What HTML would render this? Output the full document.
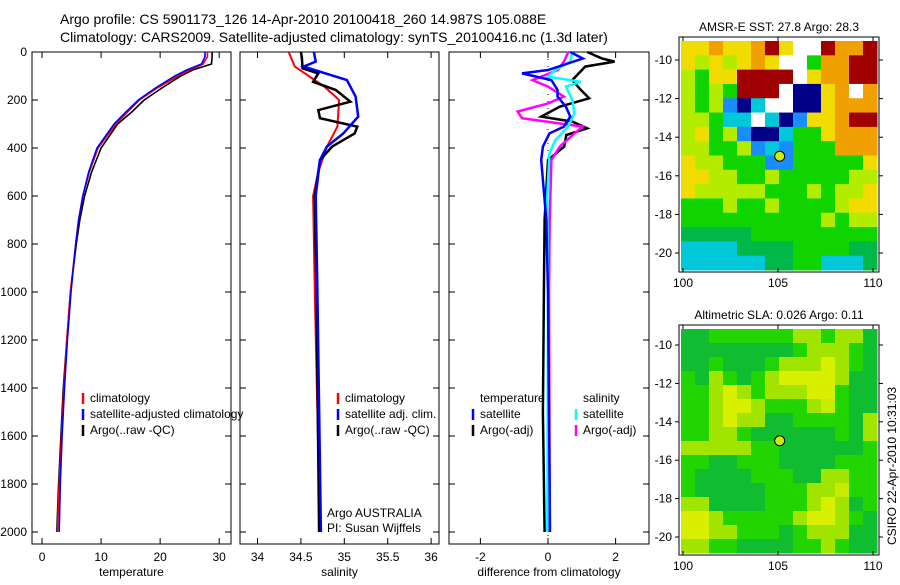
<!DOCTYPE html>
<html><head><meta charset="utf-8">
<style>
body{margin:0;background:#fff;font-family:"Liberation Sans",sans-serif;}
svg text{font-family:"Liberation Sans",sans-serif;fill:#000;}
</style></head>
<body>
<svg id="fig" width="900" height="580" xmlns="http://www.w3.org/2000/svg">
<rect width="900" height="580" fill="#fff"/>
<text x="60" y="24" font-size="14">Argo profile: CS 5901173_126 14-Apr-2010 20100418_260 14.987S 105.088E</text>
<text x="60" y="42" font-size="14">Climatology: CARS2009. Satellite-adjusted climatology: synTS_20100416.nc (1.3d later)</text>
<g id="g"></g>
</svg>
<script>
// ---- data ----
const depthTicks = [0,200,400,600,800,1000,1200,1400,1600,1800,2000];
const tempTicks = [0,10,20,30];
const salTicks = [34,34.5,35,35.5,36];
const diffTicks = [-2,0,2];
const tempDepth = [0,20,50,75,100,150,200,250,300,400,500,600,700,800,1000,1200,1400,1600,1800,2000];
const tempClim = [28,28,27.3,25,23,19.5,16.5,14.5,12.5,9.5,8,6.9,6.2,5.7,4.8,4.2,3.7,3.3,2.9,2.6];
const tempSat = [27.6,27.6,27,24.5,22.5,19.2,16.3,14.2,12.2,9.3,7.9,6.9,6.2,5.7,4.9,4.3,3.8,3.4,3.1,2.9];
const tempArgo = [28.8,28.8,28.7,25.5,23.5,20.3,17.3,15.2,12.8,10,8.4,7.2,6.4,5.8,4.8,4.2,3.6,3.2,2.8,2.5];
const salClimDepth = [0,61,144,200,311,394,500,600,1000,2000];
const salClim = [34.36,34.43,34.77,34.94,34.92,34.8,34.7,34.64,34.66,34.72];
const salSatDepth = [0,40,61,117,186,269,339,394,450,600,1000,2000];
const salSat = [34.65,34.67,34.53,35.03,35.13,35.16,34.99,34.8,34.72,34.67,34.69,34.73];
const salArgoDepth = [0,20,68,89,124,158,207,242,276,311,339,394,450,600,1000,2000];
const salArgo = [34.5,34.51,34.52,34.7,34.64,34.9,35.07,34.7,34.72,35.15,35.12,34.86,34.72,34.66,34.68,34.71];
const dTempArgoDepth = [0,27,40,61,117,158,193,228,269,290,318,346,394,450,700,1000,1500,2000];
const dTempArgo = [1.16,1.6,1.97,1.1,0.72,0.97,1.22,0.35,-0.2,0.72,1.16,0.54,0.48,0,-0.1,-0.12,-0.15,-0.1];
const dTempSatDepth = [0,27,75,89,117,158,186,228,269,311,339,394,450,700,1000,1500,2000];
const dTempSat = [0.66,1.03,0,-0.77,0.1,0.28,0.28,0.53,0.66,0.47,0.04,-0.15,-0.2,-0.05,0,0.03,0.06];
const dSalSatDepth = [0,40,75,103,124,144,200,255,311,367,422,600,1000,2000];
const dSalSat = [0.72,0.66,0.22,0,0.97,0.53,0.72,0.78,0.6,0.22,0.04,-0.02,0,-0.02];
const dSalArgoDepth = [0,40,75,117,144,186,214,248,276,311,339,394,450,700,1000,2000];
const dSalArgo = [0.6,0.47,0.29,-0.46,0,0.47,0,-0.9,-0.77,1.03,0.78,0.35,0.1,0.05,0.03,0.05];
const sstGrid = [
"yyoyyorywwroor","ylylyoywwgoorr","lgyyrrrrwyoorr","lglgrrrwnnyowo",
"lglbncwwnnyooo","llgccwcnbyyorr","lyglbnncggyooo","llgglbcbgggooo",
"yllgggbbgggggy","yyllgglgggggll","ylllllggglglly","ggglgglgggglyy",
"gggggggggglgll","GGGGGggggggggg","ccccGGGGggggGG","ccccccGGggcccG"];
const slaGrid = [
"GGggggggllgllG","GGGGGGGGglllgG","GGgGGGglllylgG","gGlgGglyyyylGG",
"gglylglllyygGG","gglyylggglLgGG","gglyllGGggggGl","ggllgGGGGGGgGl",
"lllllggGGGGGGg","ggGGgggGGGGggg","gGGGGgggGGllgg","gGGGGGgggllLgg",
"llGGGGggglylGg","yylggggglyylgG","yyllgggGglllGG","llggGGGGgglgGG"];
// ---- helpers ----
const NS="http://www.w3.org/2000/svg";
const G=document.getElementById('g');
function mk(tag,attrs,parent){const e=document.createElementNS(NS,tag);for(const k in attrs)e.setAttribute(k,attrs[k]);(parent||G).appendChild(e);return e;}
const yTop=52,yPerM=0.24;
function yD(d){return yTop+d*yPerM;}
function panel(name,x0,x1,xmin,xmax,ticks,label,leftLabels,fmt){
  const sx=v=>x0+(v-xmin)/(xmax-xmin)*(x1-x0);
  const r=mk('rect',{x:x0,y:yTop,width:x1-x0,height:492,fill:'none',stroke:'#000','stroke-width':1});
  
  
  ticks.forEach(t=>{
    const X=sx(t);
    mk('line',{x1:X,y1:yTop+492,x2:X,y2:yTop+486,stroke:'#000'});
    mk('line',{x1:X,y1:yTop,x2:X,y2:yTop+6,stroke:'#000'});
    const tx=mk('text',{x:X,y:561,'font-size':12,'text-anchor':'middle'});tx.textContent=fmt?fmt(t):t;
    
    
  });
  depthTicks.forEach(d=>{
    const Y=yD(d);
    mk('line',{x1:x0,y1:Y,x2:x0+6,y2:Y,stroke:'#000'});
    mk('line',{x1:x1,y1:Y,x2:x1-6,y2:Y,stroke:'#000'});
    if(leftLabels){const t=mk('text',{x:x0-5,y:Y+4,'font-size':12,'text-anchor':'end'});t.textContent=d;
      
      }
  });
  const lt=mk('text',{x:(x0+x1)/2,y:576,'font-size':12,'text-anchor':'middle'});lt.textContent=label;
  
  
  return sx;
}
function series(name,sx,depths,vals,color,w){
  const pts=vals.map((v,i)=>sx(v).toFixed(1)+','+yD(depths[i]).toFixed(1)).join(' ');
  const p=mk('polyline',{points:pts,fill:'none',stroke:color,'stroke-width':w});
  
  
}
function legend(x,y,color,label,name){
  if(color){const b=mk('line',{x1:x,y1:y-9,x2:x,y2:y+2,stroke:color,'stroke-width':2.5});
    
    }
  const t=mk('text',{x:x+7,y:y,'font-size':12});t.textContent=label;
  
  
}
// temperature
const sT=panel('temperature-panel',32,231,-1.7,32,tempTicks,'temperature',true);
series('temp-argo-line',sT,tempDepth,tempArgo,'#000',1.6);
series('temp-clim-line',sT,tempDepth,tempClim,'#f00',1.6);
series('temp-sat-line',sT,tempDepth,tempSat,'#00f',1.6);
legend(83,402,'#f00','climatology','legend-climatology');
legend(83,418,'#00f','satellite-adjusted climatology','legend-satellite');
legend(83,434,'#000','Argo(..raw -QC)','legend-argo');
// salinity
const sS=panel('salinity-panel',240,439,34-17.5/86.8,34+181.5/86.8,salTicks,'salinity',false);
series('sal-clim-line',sS,salClimDepth,salClim,'#f00',2);
series('sal-argo-line',sS,salArgoDepth,salArgo,'#000',2.5);
series('sal-sat-line',sS,salSatDepth,salSat,'#00f',2.5);
legend(338,402,'#f00','climatology','legend-sal-climatology');
legend(338,418,'#00f','satellite adj. clim.','legend-sal-satellite');
legend(338,434,'#000','Argo(..raw -QC)','legend-sal-argo');
const a1=mk('text',{x:327,y:517,'font-size':12});a1.textContent='Argo AUSTRALIA';


const a2=mk('text',{x:327,y:532,'font-size':12});a2.textContent='PI: Susan Wijffels';


// difference
const sD=panel('difference-panel',449,649,-2-31.4/33.8,-2+168.6/33.8,diffTicks,'difference from climatology',false);
mk('line',{x1:sD(0),y1:yTop,x2:sD(0),y2:yTop+492,stroke:'#000','stroke-dasharray':'1,6'});
series('diff-temp-argo-line',sD,dTempArgoDepth,dTempArgo,'#000',2.5);
series('diff-sal-argo-line',sD,dSalArgoDepth,dSalArgo,'#f0f',2.5);
series('diff-sal-sat-line',sD,dSalSatDepth,dSalSat,'#0ff',2.5);
series('diff-temp-sat-line',sD,dTempSatDepth,dTempSat,'#00f',2.5);
legend(473,402,null,'temperature','legend-diff-temperature');
legend(576,402,null,'salinity','legend-diff-salinity');
legend(473,418,'#00f','satellite','legend-diff-temp-sat');
legend(473,434,'#000','Argo(-adj)','legend-diff-temp-argo');
legend(576,418,'#0ff','satellite','legend-diff-sal-sat');
legend(576,434,'#f0f','Argo(-adj)','legend-diff-sal-argo');
// ---- maps ----
const pal={y:'#f2dc00',o:'#f0a000',O:'#e07010',r:'#a00000',l:'#b4ec00',L:'#d8f000',g:'#10d400',G:'#00b848',c:'#00c8d8',b:'#1a8cff',n:'#000088',w:'#ffffff'};
const pal2={g:'#22d400',G:'#10bc30',l:'#a0e400',L:'#c8ec00',y:'#d8f000'};
function map(name,top,bot,y10,y20,grid,palette,title){
  const x0=681,x1=877,lonX=v=>683+(v-100)*19,latY=v=>y10+(-10-v)/10*(y20-y10);
  const rows=grid.length,cw=(x1-x0)/14,ch=(bot-top)/rows;
  grid.forEach((row,r)=>{for(let c=0;c<14;c++){const k=row[c]||'g';
    const cell=mk('rect',{x:x0+c*cw,y:top+r*ch,width:cw+0.5,height:ch+0.5,fill:palette[k]||palette.g});
    
    }});
  const fr=mk('rect',{x:x0-2,y:top-4,width:x1-x0+4,height:bot-top+6,fill:'none',stroke:'#000'});
  
  
  [100,105,110].forEach(v=>{const X=lonX(v);mk('line',{x1:X,y1:top-4,x2:X,y2:top,stroke:'#000'});mk('line',{x1:X,y1:bot+2,x2:X,y2:bot-2,stroke:'#000'});
    const t=mk('text',{x:X,y:bot+17,'font-size':12,'text-anchor':'middle'});t.textContent=v;
    
    });
  [-10,-12,-14,-16,-18,-20].forEach(v=>{const Y=latY(v);mk('line',{x1:x0-6,y1:Y,x2:x0-2,y2:Y,stroke:'#000'});mk('line',{x1:x1+2,y1:Y,x2:x1+6,y2:Y,stroke:'#000'});
    const t=mk('text',{x:x0-9,y:Y+4,'font-size':12,'text-anchor':'end'});t.textContent=v;
    
    });
  const c=mk('circle',{cx:lonX(105.088),cy:latY(-14.987),r:5,fill:'#c8f000',stroke:'#000'});
  
  
  const t=mk('text',{x:(x0+x1)/2,y:top-10,'font-size':12,'text-anchor':'middle'});t.textContent=title;
  
  
}
map('sst-map',41,270,60,253,sstGrid,pal,'AMSR-E SST: 27.8 Argo: 28.3');
map('sla-map',329,553,345,537,slaGrid,pal2,'Altimetric SLA: 0.026 Argo: 0.11');
const cs=mk('text',{x:0,y:0,'font-size':12,transform:'translate(896,545) rotate(-90)'});cs.textContent='CSIRO 22-Apr-2010 10:31:03';


</script>
</body></html>
